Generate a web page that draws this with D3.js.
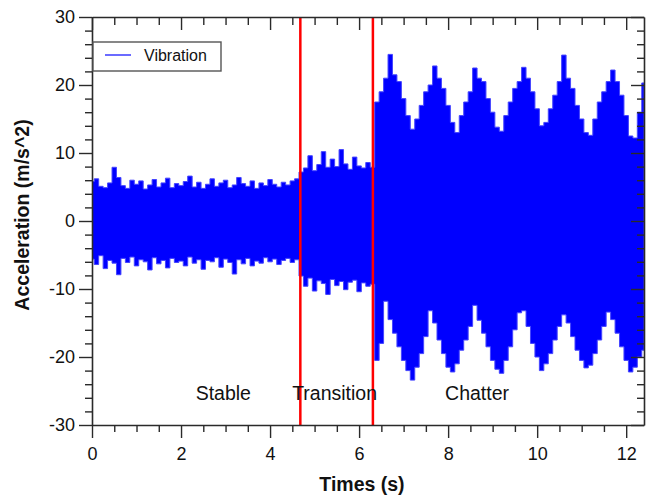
<!DOCTYPE html>
<html>
<head>
<meta charset="utf-8">
<script src="https://cdn.jsdelivr.net/npm/d3@7"></script>
<style>
  html, body { margin: 0; padding: 0; background: #fff; }
  svg { display: block; font-family: "Liberation Sans", Arial, sans-serif; }
</style>
</head>
<body>
<svg id="chart" width="649" height="495"></svg>
<script>
// ---- data (envelope of the vibration signal, sampled every 0.1 s from 0.0 to 12.4 s) ----
const timeStart = 0.0;
const timeStep = 0.1;
const upperEnvelope = [
  // stable 0.0 - 4.6
  5.8,6.2,5.1,4.9,5.6,7.9,6.4,5.2,4.8,6.0,
  5.4,5.9,4.7,5.3,6.1,5.0,5.6,6.3,4.9,5.5,
  5.2,5.8,6.6,5.0,5.7,4.8,5.4,6.2,5.1,5.6,
  6.0,4.9,5.3,6.4,5.5,5.1,5.9,4.8,5.6,5.2,
  6.1,5.4,5.0,5.7,5.3,5.9,6.2,
  // transition 4.7 - 6.3
  7.2,7.8,9.6,7.4,8.3,10.2,7.9,9.1,8.0,10.5,8.4,7.6,9.4,8.1,7.8,8.6,7.9,
  // chatter 6.4 - 12.4
  17.5,19.0,21.0,24.5,21.5,20.5,
  18.0,15.5,13.5,15.0,17.0,19.0,20.0,22.8,21.0,19.5,
  17.0,14.5,13.0,15.5,17.5,19.0,22.5,21.0,20.5,18.0,
  16.0,13.8,13.2,15.5,17.5,19.5,20.5,22.6,21.0,19.0,
  16.5,14.0,14.5,16.5,18.5,20.5,24.4,21.0,19.5,17.0,
  15.0,13.0,12.6,15.0,17.5,19.0,20.5,22.2,20.5,18.5,
  15.5,12.5,12.2,16.0,20.3
];
const lowerEnvelope = [
  // stable 0.0 - 4.6
  -5.6,-6.4,-5.1,-7.0,-5.8,-6.2,-7.9,-5.5,-6.1,-5.3,
  -6.6,-5.7,-6.0,-7.2,-5.4,-6.3,-5.8,-6.9,-5.5,-6.1,
  -5.9,-6.6,-5.3,-6.2,-5.7,-7.1,-5.8,-6.0,-5.4,-6.8,
  -5.6,-6.1,-7.8,-5.7,-6.3,-5.5,-6.6,-5.9,-6.2,-5.4,
  -6.0,-5.6,-6.4,-5.8,-5.5,-6.1,-5.7,
  // transition 4.7 - 6.3
  -8.1,-9.6,-8.4,-10.3,-8.8,-9.2,-10.8,-8.6,-9.5,-8.9,-10.1,-9.0,-8.7,-10.4,-9.1,-9.6,-9.3,
  // chatter 6.4 - 12.4
  -20.5,-18.0,-11.8,-14.5,-16.5,-18.5,
  -20.5,-22.0,-23.4,-21.5,-19.5,-17.0,-13.2,-15.0,-17.5,-19.5,
  -21.5,-22.2,-21.0,-19.0,-17.5,-15.5,-12.4,-14.6,-16.5,-18.5,
  -20.5,-21.8,-22.4,-20.5,-18.5,-16.0,-13.5,-13.2,-15.5,-18.0,
  -20.0,-22.0,-21.0,-19.5,-17.5,-15.5,-13.8,-15.0,-17.0,-19.0,
  -20.5,-21.6,-21.2,-19.5,-17.5,-15.5,-13.4,-14.5,-16.5,-18.5,
  -20.5,-22.2,-21.5,-20.0,-19.0
];
const regionBoundaries = [4.68, 6.31];
const regionLabels = [
  { label: "Stable", t: 2.95 },
  { label: "Transition", t: 5.45 },
  { label: "Chatter", t: 8.65 }
];
const xTickValues = [0, 2, 4, 6, 8, 10, 12];
const yTickValues = [30, 20, 10, 0, -10, -20, -30];
const seriesName = "Vibration";
const xTitle = "Times (s)";
const yTitle = "Acceleration (m/s^2)";

// ---- layout ----
const svg = d3.select("#chart");
const pLeft = 92, pTop = 17, pRight = 644, pBottom = 425;
const x = d3.scaleLinear().domain([0, 12.4]).range([pLeft, pRight]);
const y = d3.scaleLinear().domain([-30, 30]).range([pBottom, pTop]);

const signal = upperEnvelope.map((u, i) => ({
  t: +(timeStart + i * timeStep).toFixed(2),
  hi: u,
  lo: lowerEnvelope[i]
}));

svg.append("defs").append("clipPath").attr("id", "plotClip")
  .append("rect").attr("x", pLeft).attr("y", pTop)
  .attr("width", pRight - pLeft).attr("height", pBottom - pTop);

// signal band
const area = d3.area()
  .x(d => x(d.t))
  .y0(d => y(d.lo))
  .y1(d => y(d.hi))
  .curve(d3.curveStep);
svg.append("path")
  .datum(signal)
  .attr("clip-path", "url(#plotClip)")
  .attr("d", area)
  .attr("fill", "#0000ff")
  .attr("stroke", "#4545ff")
  .attr("stroke-width", 1)
  .attr("stroke-linejoin", "miter");

// region boundaries
svg.selectAll("line.boundary").data(regionBoundaries).enter().append("line")
  .attr("class", "boundary")
  .attr("x1", d => x(d)).attr("x2", d => x(d))
  .attr("y1", pTop).attr("y2", pBottom)
  .attr("stroke", "#ff0000").attr("stroke-width", 2.5);

// region labels
svg.selectAll("text.region").data(regionLabels).enter().append("text")
  .attr("class", "region")
  .attr("x", d => x(d.t)).attr("y", 400)
  .attr("text-anchor", "middle")
  .attr("font-size", 19.5)
  .attr("fill", "#111")
  .text(d => d.label);

// ---- axes ----
const axisColor = "#2a2a2a";
function styleAxis(g) {
  g.selectAll("path.domain").attr("stroke", axisColor).attr("stroke-width", 1.6);
  g.selectAll(".tick line").attr("stroke", axisColor).attr("stroke-width", 1.4);
}
const xMinor = d3.range(0, 12.41, 0.5).filter(v => Math.abs(v / 2 - Math.round(v / 2)) > 1e-6);
const yMinor = d3.range(-30, 30.1, 2).filter(v => v % 10 !== 0);

// bottom
const gB = svg.append("g").attr("transform", `translate(0,${pBottom})`)
  .call(d3.axisBottom(x).tickValues(xTickValues).tickSize(13).tickPadding(9).tickSizeOuter(0));
styleAxis(gB);
gB.selectAll(".tick text").attr("font-size", 18).attr("fill", "#111").attr("font-family", "Liberation Sans, Arial, sans-serif");
const gBm = svg.append("g").attr("transform", `translate(0,${pBottom})`)
  .call(d3.axisBottom(x).tickValues(xMinor).tickSize(7).tickFormat("").tickSizeOuter(0));
styleAxis(gBm); gBm.select("path.domain").remove();

// top
const gT = svg.append("g").attr("transform", `translate(0,${pTop})`)
  .call(d3.axisBottom(x).tickValues(xTickValues).tickSize(13).tickFormat("").tickSizeOuter(0));
styleAxis(gT);
const gTm = svg.append("g").attr("transform", `translate(0,${pTop})`)
  .call(d3.axisBottom(x).tickValues(xMinor).tickSize(8).tickFormat("").tickSizeOuter(0));
styleAxis(gTm); gTm.select("path.domain").remove();

// left
const gL = svg.append("g").attr("transform", `translate(${pLeft},0)`)
  .call(d3.axisLeft(y).tickValues(yTickValues).tickSize(13).tickPadding(4).tickSizeOuter(0)
    .tickFormat(d => d < 0 ? "-" + Math.abs(d) : String(d)));
styleAxis(gL);
gL.selectAll(".tick text").attr("font-size", 18).attr("fill", "#111").attr("font-family", "Liberation Sans, Arial, sans-serif");
const gLm = svg.append("g").attr("transform", `translate(${pLeft},0)`)
  .call(d3.axisLeft(y).tickValues(yMinor).tickSize(7).tickFormat("").tickSizeOuter(0));
styleAxis(gLm); gLm.select("path.domain").remove();

// right
const gR = svg.append("g").attr("transform", `translate(${pRight},0)`)
  .call(d3.axisLeft(y).tickValues(yTickValues).tickSize(13).tickFormat("").tickSizeOuter(0));
styleAxis(gR);
const gRm = svg.append("g").attr("transform", `translate(${pRight},0)`)
  .call(d3.axisLeft(y).tickValues(yMinor).tickSize(7).tickFormat("").tickSizeOuter(0));
styleAxis(gRm); gRm.select("path.domain").remove();

// axis titles
svg.append("text")
  .attr("x", (x(0) + x(12.4)) / 2 - 6).attr("y", 491)
  .attr("text-anchor", "middle")
  .attr("font-size", 19.5).attr("font-weight", "bold").attr("fill", "#111")
  .text(xTitle);
svg.append("text")
  .attr("transform", `translate(29,215) rotate(-90)`)
  .attr("text-anchor", "middle")
  .attr("font-size", 19.5).attr("font-weight", "bold").attr("fill", "#111")
  .text(yTitle);

// legend
const leg = svg.append("g");
leg.append("rect")
  .attr("x", 93).attr("y", 42).attr("width", 128).attr("height", 29)
  .attr("fill", "#fff").attr("stroke", "#555").attr("stroke-width", 1.4);
leg.append("line")
  .attr("x1", 105).attr("x2", 131).attr("y1", 55).attr("y2", 55)
  .attr("stroke", "#6b6bff").attr("stroke-width", 2);
leg.append("text")
  .attr("x", 144).attr("y", 61)
  .attr("font-size", 16).attr("fill", "#111")
  .text(seriesName);
</script>
</body>
</html>
